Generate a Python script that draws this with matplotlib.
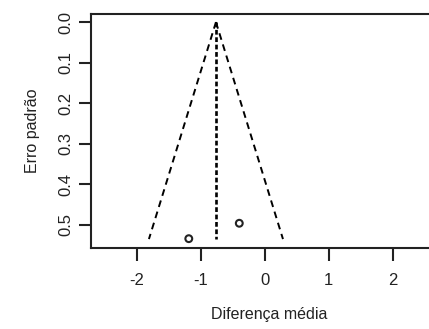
import numpy as np
import matplotlib.pyplot as plt

plt.rcParams['font.family'] = ['Liberation Sans', 'DejaVu Sans']

# study estimates (mean difference) and their standard errors
mean_diff = [-1.19, -0.40]
std_err = [0.534, 0.496]
# pooled (fixed effect) estimate and the funnel depth
pooled = -0.765
se_max = 0.535
z = 1.96

x_ticks = [-2, -1, 0, 1, 2]
y_ticks = [0.0, 0.1, 0.2, 0.3, 0.4, 0.5]

fig = plt.figure(figsize=(4.29, 3.29), dpi=100)
# right edge of the box falls just outside the figure
ax = fig.add_axes([91 / 429, 1 - 248 / 329, (447 - 91) / 429, (248 - 14) / 329])

se_line = np.array([0.0, se_max])
ax.plot(pooled - z * se_line, se_line, color='black', lw=1.4, ls=(0, (3.5, 2.5)))
ax.plot(pooled + z * se_line, se_line, color='black', lw=1.4, ls=(0, (3.5, 2.5)))
ax.plot([pooled, pooled], se_line, color='black', lw=1.9, ls=(0, (1.8, 1.0)))
ax.scatter(mean_diff, std_err, s=24, facecolors='none', edgecolors='#222222', linewidths=1.5, zorder=3)

ax.set_xlim(-2.72, 2.85)
ax.set_ylim(0.557, -0.02)
ax.set_xticks(x_ticks)
ax.set_xticklabels([f'{v:d}' for v in x_ticks])
ax.set_yticks(y_ticks)
ax.set_yticklabels([f'{v:.1f}' for v in y_ticks], rotation=90, va='center')

for side in ['top', 'bottom', 'left', 'right']:
    ax.spines[side].set_linewidth(1.5)
    ax.spines[side].set_color('#222222')
ax.tick_params(axis='both', length=9, width=1.5, color='#222222', labelsize=12, labelcolor='#222222', pad=9)
ax.tick_params(axis='y', pad=4)

ax.set_xlabel('Diferença média', fontsize=11.5, color='#222222', labelpad=14)
ax.set_ylabel('Erro padrão', fontsize=11.5, color='#222222', labelpad=13)

fig.savefig('out.png', dpi=100)
